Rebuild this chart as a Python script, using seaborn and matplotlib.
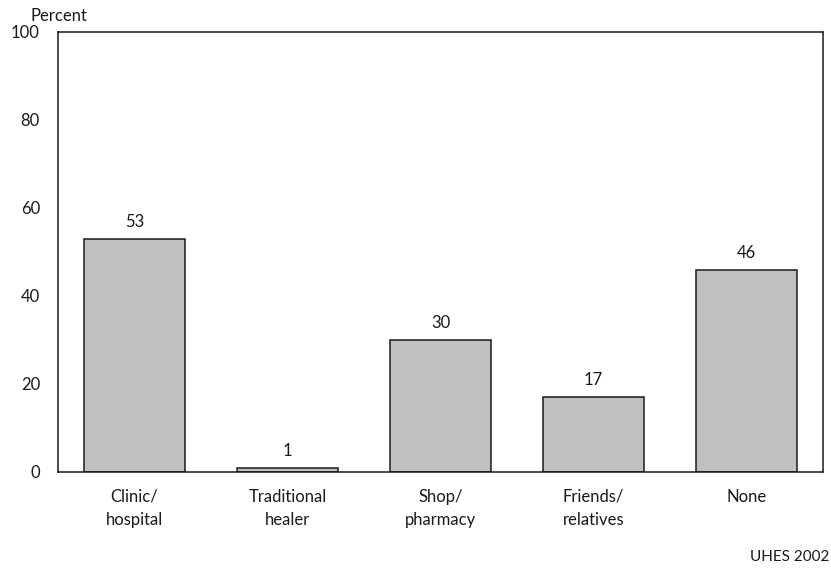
import matplotlib
matplotlib.use("Agg")
import matplotlib.pyplot as plt
import seaborn as sns
import pandas as pd

categories = ["Clinic/\nhospital", "Traditional\nhealer", "Shop/\npharmacy", "Friends/\nrelatives", "None"]
values = [53, 1, 30, 17, 46]
yticks = [0, 20, 40, 60, 80, 100]

sns.set_theme(style="white")
plt.rcParams['font.family'] = ['Lato', 'DejaVu Sans']

df = pd.DataFrame({"cat": categories, "val": values})
fig = plt.figure(figsize=(8.31, 5.74), dpi=100)
ax = fig.add_axes([58/831, 1-472/574, (823-58)/831, (472-32)/574])
sns.barplot(data=df, x="cat", y="val", color="#c0c0c0", edgecolor="#1a1a1a",
            linewidth=1.1, width=0.654, saturation=1, ax=ax)
ax.set_ylim(0, 100)
ax.set_xlim(-0.5, 4.5)
ax.set_yticks(yticks)
ax.set_yticklabels([str(t) for t in yticks], fontsize=12, color="#1a1a1a")
ax.tick_params(axis='both', length=0)
ax.tick_params(axis='y', pad=13)
ax.tick_params(axis='x', pad=12)
ax.set_xticklabels(categories, fontsize=12, color="#1a1a1a", linespacing=1.55)
ax.set_xlabel("")
ax.set_ylabel("")
for s in ax.spines.values():
    s.set_color("#1a1a1a")
    s.set_linewidth(1.1)
for i, v in enumerate(values):
    ax.text(i, v + 2, str(v), ha="center", va="bottom", fontsize=12, color="#1a1a1a")
fig.text(30/831, 1-16/574, "Percent", ha="left", va="center", fontsize=12, color="#1a1a1a")
fig.text(829/831, 1-557/574, "UHES 2002", ha="right", va="center", fontsize=11, color="#1a1a1a")
fig.savefig("out.png", dpi=100)
